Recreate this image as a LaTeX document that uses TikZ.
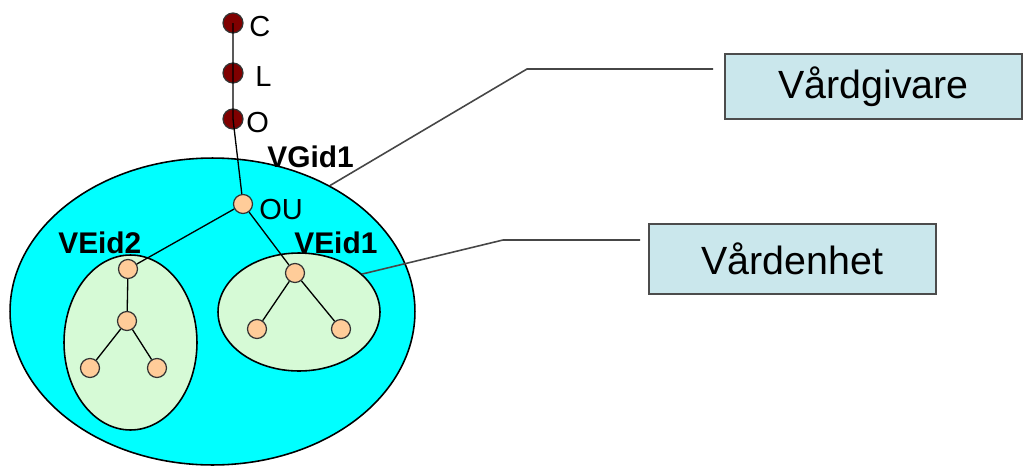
\documentclass[tikz,border=0pt]{standalone}
\usepackage{fontspec}
\setmainfont{Liberation Sans}
\usetikzlibrary{shapes.geometric}
\definecolor{ringcyan}{RGB}{0,255,255}
\definecolor{unitgreen}{RGB}{214,250,214}
\definecolor{peach}{RGB}{255,204,153}
\definecolor{darkred}{RGB}{128,0,0}
\definecolor{boxblue}{RGB}{202,231,236}
\definecolor{linegray}{RGB}{70,70,70}

\begin{document}
\begin{tikzpicture}[x=0.02cm,y=-0.02cm,
  area/.style={ellipse,draw=black,line width=0.9pt,inner sep=0pt},
  hsadot/.style={circle,draw=black!80,line width=0.7pt,fill=darkred,minimum size=0.4cm,inner sep=0pt},
  orgdot/.style={circle,draw=black!80,line width=0.7pt,fill=peach,minimum size=0.38cm,inner sep=0pt},
  lbl/.style={anchor=west,inner sep=0pt,font=\fontsize{16.5}{18}\selectfont},
  idlbl/.style={anchor=west,inner sep=0pt,font=\fontsize{17}{19}\selectfont\bfseries},
  infobox/.style={draw=black!70,fill=boxblue,line width=0.8pt,font=\fontsize{22.4}{26}\selectfont},
  conn/.style={draw=linegray,line width=0.9pt}]
\useasboundingbox (0,0) rectangle (1029,467);

% areas
\node[area,fill=ringcyan,minimum width=8.1cm,minimum height=6.14cm] (vg) at (212.5,311.5) {};
\node[area,fill=unitgreen,minimum width=2.66cm,minimum height=3.5cm] (ve2) at (130.5,342.5) {};
\node[area,fill=unitgreen,minimum width=3.24cm,minimum height=2.36cm] (ve1) at (299,312) {};

% HSA tree
\node[hsadot] (C) at (233,23) {};
\node[hsadot] (L) at (233,73) {};
\node[hsadot] (O) at (233,119) {};
\node[orgdot] (OU) at (243,204) {};
\foreach \n/\x/\y in {a1/128/269,a2/127/321,a3/90/368,a4/157/368,b1/295/273,b2/257/329,b3/341/329}
  \node[orgdot] (\n) at (\x,\y) {};

\draw[line width=0.75pt] (C.center) -- (L.center) -- (O.center) -- (OU);
\draw[line width=0.75pt] (OU) -- (a1) (a1) -- (a2) (a2) -- (a3) (a2) -- (a4);
\draw[line width=0.75pt] (OU) -- (b1) (b1) -- (b2) (b1) -- (b3);

% labels
\node[lbl] (lblC) at (249,27) {C};
\node[lbl] (lblL) at (255,77) {L};
\node[lbl] (lblO) at (246,123) {O};
\node[lbl] (lblOU) at (259,210) {OU};
\node[idlbl] (lblVG) at (267,157) {VGid1};
\node[idlbl] (lblVE2) at (58,243) {VEid2};
\node[idlbl] (lblVE1) at (294,243) {VEid1};

% boxes
\node[infobox,minimum width=5.94cm,minimum height=1.3cm] (vgbox) at (873.5,86.5) {Vårdgivare};
\node[infobox,minimum width=5.74cm,minimum height=1.4cm] (vebox) at (792.5,259) {Vårdenhet};

\coordinate (gbend) at (527,69);
\coordinate (gend) at (713,69);
\draw[conn] (vg.47) -- (gbend) -- (gend);
\coordinate (ebend) at (503,240);
\coordinate (eend) at (640,240);
\draw[conn] (ve1.31) -- (ebend) -- (eend);
\end{tikzpicture}
\end{document}
